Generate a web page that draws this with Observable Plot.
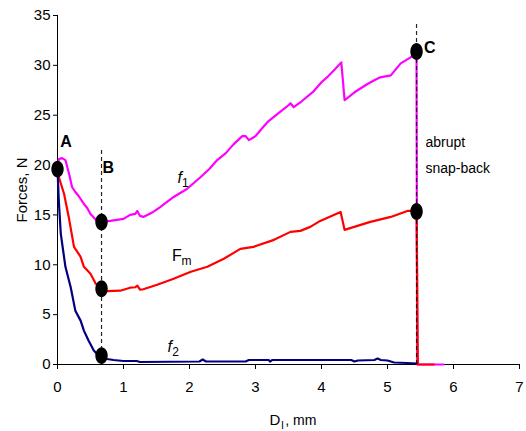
<!DOCTYPE html>
<html>
<head>
<meta charset="utf-8">
<script src="https://cdn.jsdelivr.net/npm/d3@7"></script>
<script src="https://cdn.jsdelivr.net/npm/@observablehq/plot@0.6"></script>
<style>
  html, body { margin: 0; padding: 0; background: #fff; }
  #chart svg { display: block; }
</style>
</head>
<body>
<div id="chart"></div>
<script>
// Data (x = D_l in mm, y = force in N)
const f1 = [[0,19.6],[0.02,20.6],[0.07,20.7],[0.12,20.5],[0.18,19.0],[0.22,17.8],[0.27,17.3],[0.32,16.9],[0.40,16.1],[0.45,15.7],[0.5,15.1],[0.6,14.4],[0.67,14.3],[0.8,14.4],[1.0,14.6],[1.1,15.0],[1.18,15.1],[1.21,15.4],[1.25,14.9],[1.3,14.8],[1.45,15.3],[1.56,15.8],[1.76,16.8],[1.96,17.6],[2.17,18.8],[2.3,19.6],[2.42,20.5],[2.55,21.2],[2.67,22.1],[2.8,22.9],[2.85,22.9],[2.9,22.5],[3.0,22.9],[3.1,23.7],[3.18,24.3],[3.33,25.1],[3.5,26.0],[3.53,26.2],[3.58,25.8],[3.7,26.4],[3.88,27.4],[4.0,28.3],[4.1,28.9],[4.19,29.5],[4.3,30.3],[4.35,26.5],[4.5,27.3],[4.69,28.1],[4.8,28.5],[4.89,28.8],[5.05,29.0],[5.2,30.2],[5.35,30.8],[5.44,31.4],[5.45,0],[5.85,0]];
const Fm = [[0,19.6],[0.02,18.8],[0.1,17.1],[0.17,14.8],[0.25,11.8],[0.35,10.8],[0.40,9.8],[0.5,9.1],[0.58,8.1],[0.67,7.6],[0.75,7.35],[0.95,7.4],[1.1,7.7],[1.18,7.75],[1.21,7.9],[1.25,7.5],[1.3,7.55],[1.51,8.0],[1.76,8.6],[2.02,9.3],[2.27,9.8],[2.52,10.6],[2.77,11.6],[2.97,11.8],[3.28,12.5],[3.53,13.3],[3.68,13.4],[3.83,13.8],[3.98,14.4],[4.29,15.3],[4.35,13.5],[4.74,14.3],[5.05,14.8],[5.30,15.4],[5.44,15.4],[5.46,0],[5.7,0]];
const f2 = [[0,19.6],[0.01,18.0],[0.02,16.4],[0.05,13.1],[0.12,9.8],[0.2,7.75],[0.27,5.4],[0.35,4.4],[0.40,3.4],[0.47,2.4],[0.55,1.4],[0.62,0.9],[0.67,0.7],[0.75,0.55],[0.85,0.45],[1.0,0.35],[1.2,0.35],[1.25,0.25],[2.15,0.3],[2.2,0.5],[2.25,0.3],[2.85,0.3],[2.9,0.45],[3.2,0.45],[3.22,0.3],[3.25,0.45],[4.45,0.45],[4.5,0.3],[4.55,0.4],[4.8,0.45],[4.85,0.6],[4.9,0.45],[5.0,0.4],[5.1,0.2],[5.3,0.15],[5.44,0.1]];
const keyPoints = [[0,19.6],[0.667,14.3],[0.667,7.6],[0.667,0.9],[5.44,31.4],[5.44,15.35]];
const dashLines = [{x: 0.667, top: 21.7}, {x: 5.44, top: 34.2}];
const yTicks = [0, 5, 10, 15, 20, 25, 30, 35];
const xTicks = [0, 1, 2, 3, 4, 5, 6, 7];

// Annotation texts
const pointLabels = [{x: 0.13, y: 22.3, t: "A"}, {x: 0.77, y: 19.75, t: "B"}, {x: 5.64, y: 31.75, t: "C"}];
const italicNames = [{x: 1.85, y: 18.75, t: "f", sub: "1"}, {x: 1.70, y: 1.8, t: "f", sub: "2"}];
const uprightNames = [{x: 1.81, y: 10.93, t: "F", sub: "m"}];
const noteLines = [{x: 5.576, y: 22.3, t: "abrupt"}, {x: 5.576, y: 19.65, t: "snap-back"}];

const ellipse = {
  draw(ctx) {
    const rx = 6.2, ry = 8.4, k = 0.5523;
    ctx.moveTo(rx, 0);
    ctx.bezierCurveTo(rx, ry * k, rx * k, ry, 0, ry);
    ctx.bezierCurveTo(-rx * k, ry, -rx, ry * k, -rx, 0);
    ctx.bezierCurveTo(-rx, -ry * k, -rx * k, -ry, 0, -ry);
    ctx.bezierCurveTo(rx * k, -ry, rx, -ry * k, rx, 0);
    ctx.closePath();
  }
};

const X = d => d[0], Y = d => d[1];
const font = "Arial, 'Liberation Sans', sans-serif";

const chart = Plot.plot({
  width: 526,
  height: 431,
  marginLeft: 57,
  marginRight: 7,
  marginTop: 15,
  marginBottom: 67,
  style: {fontFamily: font, fontSize: "15px", color: "#000", background: "#fff"},
  x: {domain: [0, 7]},
  y: {domain: [0, 35]},
  marks: [
    Plot.axisY({ticks: yTicks, tickSize: 4, tickPadding: 3, label: null, fontSize: 15, tickFormat: d => d}),
    Plot.axisX({ticks: xTicks, tickSize: 5, tickPadding: 12, label: null, fontSize: 15, tickFormat: d => d}),
    Plot.ruleX([0], {y1: 0, y2: 35, stroke: "#000", strokeWidth: 1}),
    Plot.ruleY([0], {x1: 0, x2: 7, stroke: "#000", strokeWidth: 1}),
    Plot.line(f1, {x: X, y: Y, stroke: "#ff00ff", strokeWidth: 2.2, curve: "linear"}),
    Plot.line(Fm, {x: X, y: Y, stroke: "#ff0000", strokeWidth: 2.2, curve: "linear"}),
    Plot.line(f2, {x: X, y: Y, stroke: "#000080", strokeWidth: 2.2, curve: "linear"}),
    Plot.ruleX(dashLines, {x: "x", y1: 0, y2: "top", stroke: "#000", strokeWidth: 1.2, strokeDasharray: "4,3", strokeOpacity: 0.85}),
    Plot.dot(keyPoints, {x: X, y: Y, symbol: ellipse, fill: "#000", stroke: "none"}),
    Plot.text(pointLabels, {x: "x", y: "y", text: "t", fontWeight: "bold", fontSize: 16, lineAnchor: "middle", textAnchor: "middle", fill: "#000"}),
    Plot.text(italicNames, {x: "x", y: "y", text: "t", fontStyle: "italic", fontSize: 16, lineAnchor: "middle", textAnchor: "middle", fill: "#000"}),
    Plot.text(italicNames, {x: "x", y: "y", text: "sub", fontSize: 12, dx: 2.5, dy: 6, lineAnchor: "middle", textAnchor: "start", fill: "#000"}),
    Plot.text(uprightNames, {x: "x", y: "y", text: "t", fontSize: 16, lineAnchor: "middle", textAnchor: "middle", fill: "#000"}),
    Plot.text(uprightNames, {x: "x", y: "y", text: "sub", fontSize: 12, dx: 4.5, dy: 6, lineAnchor: "middle", textAnchor: "start", fill: "#000"}),
    Plot.text(noteLines, {x: "x", y: "y", text: "t", fontSize: 14, lineAnchor: "middle", textAnchor: "start", fill: "#000", letterSpacing: "-0.3px"}),
    Plot.text(["Forces, N"], {frameAnchor: "left", dx: -35, rotate: -90, text: d => d, fontSize: 15, lineAnchor: "middle", textAnchor: "middle", fill: "#000"}),
    Plot.text(["D"], {frameAnchor: "bottom", x: () => 3.295, dy: 56, text: d => d, fontSize: 15, lineAnchor: "middle", textAnchor: "middle", fill: "#000"}),
    Plot.text(["l"], {frameAnchor: "bottom", x: () => 3.41, dy: 61, text: d => d, fontSize: 11, lineAnchor: "middle", textAnchor: "middle", fill: "#000"}),
    Plot.text([", mm"], {frameAnchor: "bottom", x: () => 3.45, dy: 56, text: d => d, fontSize: 14, lineAnchor: "middle", textAnchor: "start", fill: "#000", letterSpacing: "-0.5px"})
  ]
});
document.getElementById("chart").appendChild(chart);
</script>
</body>
</html>
